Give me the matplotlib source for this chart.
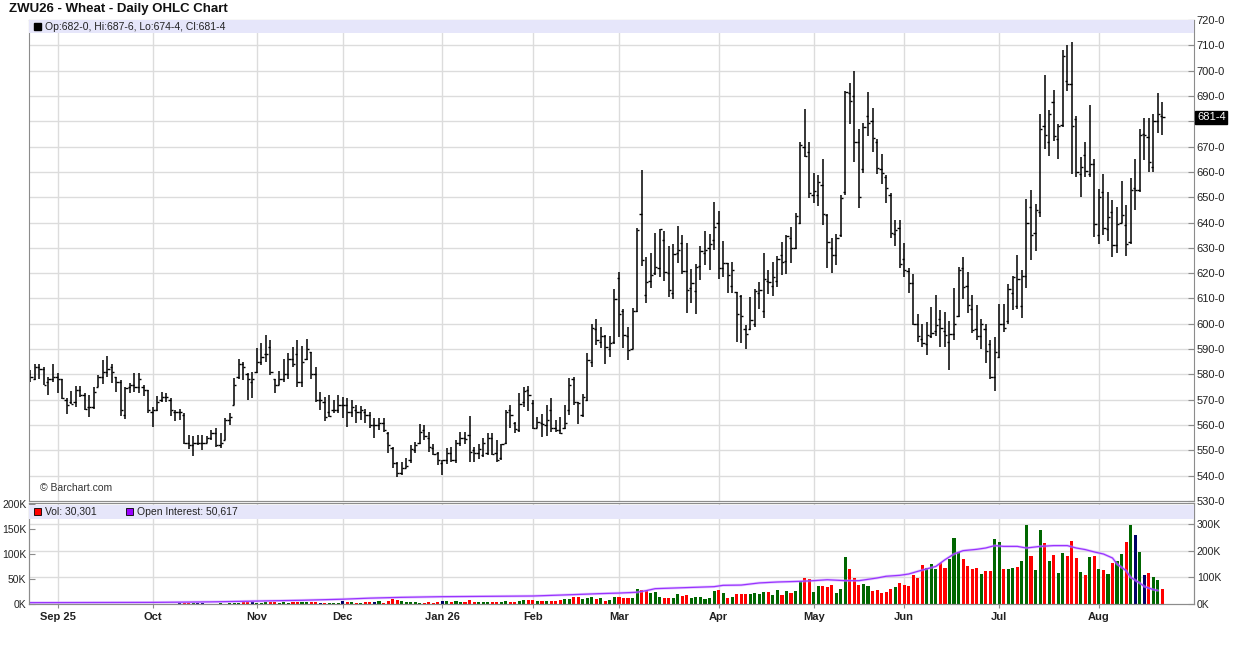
import numpy as np
import matplotlib.pyplot as plt
import matplotlib.transforms as mtransforms
from matplotlib.patches import Rectangle

plt.rcParams['font.family'] = ['Liberation Sans', 'DejaVu Sans']

# trading-day index of the first session of each month
month_days = [6, 27, 50, 69, 91, 111, 130, 152, 173, 193, 214, 236]
month_labels = ['Sep 25', 'Oct', 'Nov', 'Dec', 'Jan 26', 'Feb', 'Mar', 'Apr',
                'May', 'Jun', 'Jul', 'Aug']

opens = [580, 578, 583, 582, 577, 578, 579, 578, 570, 569,
         569, 574, 572, 567, 567, 575, 579, 581, 583, 579,
         577, 564, 575, 576, 575, 575, 574, 565, 566, 570,
         571, 570, 565, 565, 564, 553, 552, 553, 553, 553,
         555, 557, 552, 554, 562, 568, 579, 584, 580, 577,
         581, 585, 588, 591, 578, 576, 578, 580, 586, 588,
         577, 586, 589, 580, 570, 569, 565, 566, 566, 568,
         568, 565, 566, 565, 565, 564, 560, 560, 561, 557,
         551, 545, 541, 543, 546, 550, 553, 558, 555, 551,
         549, 545, 546, 549, 546, 553, 555, 556, 550, 549,
         548, 549, 555, 549, 547, 553, 566, 561, 558, 569,
         574, 568.6, 559, 561, 560, 566, 559, 558, 559, 566,
         578, 569, 564, 570, 585, 598, 593, 595, 590, 593,
         618, 605, 595, 590, 605, 643.5, 611.2, 617, 620, 622,
         633, 620, 612, 628, 632, 621, 614, 613, 623, 628,
         630, 633, 640, 622, 624, 615, 612.6, 611, 598, 598,
         600, 612, 605, 617, 615, 617, 627, 625, 634, 630,
         640, 670, 668, 651, 651, 655, 643, 630, 627, 635,
         652, 691, 690, 672, 661, 682, 680, 672, 661, 658,
         651, 635.5, 638, 625.4, 621, 616.3, 600, 594, 592, 595,
         597, 602, 597, 593, 596, 603, 622, 615, 606, 598,
         595, 598, 592, 579, 587, 600, 601, 612, 607, 607,
         619, 646, 636, 644, 678, 672, 687.6, 673, 678.4, 696,
         694.6, 681, 659, 666.6, 659, 663, 635, 652, 637.6, 644,
         631, 640, 639, 632.5, 653.5, 653, 675, 673.6, 662, 680,
         682]

highs = [581.7, 584.3, 584.3, 582.8, 579, 584, 580.4, 578, 570.5, 573.4,
         575.4, 575.4, 572.8, 571.8, 574.9, 579.7, 585.7, 587.2, 584, 579,
         577.8, 575.1, 576.7, 580.4, 580.4, 575.8, 574, 567, 571.4, 573.2,
         572.8, 570.5, 566, 566.2, 564.6, 556, 555.7, 556, 556, 555.7,
         558, 558.7, 556.7, 562.6, 564.9, 578.4, 586, 585, 580.7, 581,
         590.3, 592.5, 595.5, 593.6, 578, 581.3, 586, 588.3, 591, 593.6,
         591.2, 593.8, 589, 582.8, 573.2, 571.2, 571.8, 569.9, 571.8, 571.2,
         570.5, 569.9, 567.9, 567.5, 566.2, 565.3, 562.6, 562.6, 562.6, 557.4,
         551.4, 545.5, 545.5, 546.8, 552.1, 553.4, 560.4, 560, 557.4, 552.7,
         549.4, 546.2, 550.8, 551.2, 554, 557.4, 557.4, 563.6, 551.4, 552.5,
         555, 556.7, 556.7, 554, 552.7, 566, 568, 561.3, 572.5, 574.9,
         575.4, 569.9, 563, 564.4, 568, 570.6, 562, 563.3, 568, 578.5,
         578.9, 569.2, 572.3, 588.6, 600, 601.8, 598.9, 595.6, 595, 613.7,
         620.3, 605.9, 598.9, 606.2, 637.8, 660.7, 626.4, 628.1, 635.7, 637.6,
         636.6, 630.6, 631.4, 638.6, 635, 632, 621.5, 623.5, 630.6, 636.6,
         635.4, 648.2, 644.7, 632.6, 624, 624.4, 612.6, 611.2, 599.7, 610.4,
         613.9, 616.5, 628.1, 621.4, 624.4, 626.7, 632.4, 635, 638.3, 643.9,
         671.7, 684.8, 671.7, 659.4, 658.8, 665.1, 643.3, 633.7, 635.4, 650.9,
         691.8, 695.1, 700, 676.9, 679.5, 691.5, 685.2, 673, 667.1, 658.8,
         651.5, 641, 641, 632, 622.2, 619.6, 603.8, 599.9, 600.8, 606.7,
         611.3, 605.4, 604.7, 601.2, 614.2, 622.5, 626.2, 620.5, 611.3, 607.4,
         601.7, 600.1, 593.6, 594.9, 608, 607.8, 615.9, 618.8, 627.1, 621.2,
         649.2, 652.8, 647.2, 682.8, 698.2, 684.6, 692.2, 678.8, 708, 710,
         711.3, 682, 665.9, 671.8, 686.3, 664.9, 653.4, 659.3, 652.1, 648.8,
         646.2, 656.3, 646.8, 657.4, 664.9, 677.1, 681.4, 681.4, 683, 691.2,
         687.75]

lows = [577.1, 577.8, 578, 575.8, 571.7, 577, 572.8, 570.1, 564.2, 568.3,
        567, 571, 566, 563, 566.2, 574.9, 576.4, 579, 576.7, 573.2,
        563.5, 562.2, 572.8, 573.2, 572.8, 571.4, 564.6, 559.3, 565.5, 569.2,
        569.2, 563.5, 561.7, 562, 552.5, 550.4, 547.8, 552, 550, 553,
        554, 551.4, 551, 554, 560, 567.9, 578, 577.8, 569.9, 570.5,
        580.4, 583.7, 585, 579.7, 572.5, 575.8, 577, 578, 583, 575.1,
        575.1, 585.7, 578, 569.2, 566, 561.7, 563.3, 564.6, 564.6, 562.6,
        559.3, 563.3, 560.7, 562, 560.7, 558.7, 554.7, 558, 557.4, 549,
        542.9, 539.6, 540.3, 542.9, 545.1, 549, 552.7, 554, 549.4, 548,
        544.2, 540.2, 544.8, 545.5, 545, 551.7, 552.7, 545.5, 545.5, 546.4,
        547.2, 548, 548, 545.5, 546.2, 552.7, 558.7, 556.7, 557.4, 567.3,
        565.7, 558.3, 558.7, 555.4, 555.6, 557.4, 557.4, 556.4, 558.3, 564,
        568, 560.4, 563, 569.6, 582.8, 591.7, 590.3, 584.1, 586.8, 592,
        594.7, 590.6, 585.7, 590, 604.5, 622.9, 608.2, 614.1, 619.2, 618.5,
        616.8, 610.6, 609.9, 624, 619.8, 604.2, 608.2, 604, 617.2, 623.1,
        621.4, 629.3, 617.8, 618.5, 612.2, 612.2, 592.7, 592.3, 590, 597.6,
        598.9, 606, 602.4, 611.9, 610.8, 614.5, 619.4, 619.8, 624, 629.7,
        639.4, 666, 649.8, 647.8, 646.6, 639.2, 622.2, 620.2, 623.4, 634.3,
        650.9, 678.9, 664.1, 645.6, 659.4, 674, 668, 659, 655.2, 647.6,
        633.7, 630.8, 622.2, 618.5, 612, 599.5, 592.9, 590.7, 587.6, 594.2,
        595.1, 590.9, 590.9, 581.7, 593.6, 602.5, 609.6, 604.3, 596.2, 593.6,
        589.9, 584.6, 578, 573.6, 586.3, 596.8, 600.1, 605.4, 605.7, 602.1,
        614, 625.1, 628.8, 642.2, 669.2, 666.2, 672.2, 664.9, 677.8, 692,
        659.1, 657.8, 650.1, 658, 658, 634.3, 631.7, 635, 632.8, 626.4,
        628, 639.9, 626.7, 631.7, 644.9, 652.1, 664.6, 660, 660, 675.4,
        674.5]

closes = [579, 583, 582, 576, 578, 579, 578, 570.5, 568, 568.5,
          574, 572, 566.5, 567, 573, 579, 581, 582, 581, 577,
          566, 574.5, 576, 575, 578, 574, 566, 566, 569, 571,
          571, 566, 565, 565, 553, 552, 553, 553, 553, 555,
          557, 552, 553, 562, 563, 576, 584, 583, 578, 578,
          585, 587, 588, 581, 576, 578, 580, 586, 584, 577,
          585, 590, 580, 570, 570, 563, 563.5, 566, 568, 568,
          565, 567, 565, 566, 564, 560, 560, 561, 558, 552,
          545, 541, 543, 544, 550.4, 552, 557.4, 555.6, 551.4, 548.5,
          546.2, 546.2, 549, 546.2, 553, 555, 554.5, 549.4, 549, 550.4,
          553, 554.7, 548.5, 546.2, 552.5, 565.3, 564, 558.3, 568.3, 573.6,
          572, 559, 561.3, 560.4, 562, 559, 558, 557, 561, 576,
          569, 568.6, 571, 585.7, 598.3, 593.6, 595, 591, 592.6, 609.7,
          604, 595.6, 589.7, 604.9, 636.9, 625.3, 616.5, 619.2, 622.5, 637.3,
          620.5, 613.2, 627.5, 629, 621, 613.5, 616.1, 622.5, 628.8, 629,
          631.7, 638.3, 622, 624, 619.4, 621.1, 604, 603, 595.8, 601.3,
          612.8, 613.2, 617.8, 616.5, 618.5, 625.4, 624.5, 634.6, 630.1, 642.5,
          670.7, 666.3, 651.5, 652.6, 656.1, 643.2, 632.4, 627.1, 633.7, 649.5,
          691.5, 688.2, 672, 650, 677.9, 679.5, 673.3, 661.4, 659.4, 653.5,
          635.7, 637, 623.5, 621.2, 616.2, 600.1, 595.1, 592.5, 595.5, 596.4,
          599.5, 598.2, 595.5, 596, 599.9, 621.4, 614.6, 607.4, 597.5, 595.1,
          600, 589.3, 579.1, 589, 599.9, 598.5, 613.9, 618.3, 617.5, 618.8,
          639.9, 635, 645, 677.1, 674.5, 682.8, 674, 678, 705.7, 694.6,
          678, 660, 662, 660.4, 663.3, 639.3, 650, 638, 642.2, 631,
          639.6, 642.9, 631.7, 653, 653, 674.5, 674.5, 663.9, 680.1, 682.8,
          681.5]

# daily volume, thousands of contracts
volumes = [0.5, 0.5, 0.5, 0.5, 0.5, 0.5, 1, 0.5, 0.5, 0.5,
           0.5, 0.5, 0.5, 0.5, 0.5, 0.5, 0.5, 0.5, 0.5, 0.5,
           0.5, 0.5, 0.5, 0.5, 0.5, 0.5, 0.8, 0.8, 0.8, 0.8,
           0.8, 0.8, 1, 1.3, 1.3, 1.3, 1.3, 1.3, 1.3, 1,
           1, 1, 1.3, 1, 1.3, 2.7, 2.7, 3.3, 3.3, 3.3,
           2, 2, 3.3, 3.3, 3.3, 2, 3.3, 2, 3.3, 3.3,
           3.3, 3.3, 3.3, 3.3, 1.3, 1.3, 1.3, 1.3, 1.3, 5.3,
           3.3, 3.3, 1.3, 1.3, 3.3, 3.3, 3.3, 5.3, 1.3, 5.3,
           9.3, 7.3, 6.7, 4.7, 4.7, 4.7, 2.7, 2.7, 4.7, 2.7,
           4.7, 6.7, 6.7, 4.7, 6.7, 4.7, 4.7, 8.7, 4.7, 4.7,
           4.7, 4.7, 4.7, 4.7, 4.7, 6.7, 4.7, 4.7, 6.7, 8.7,
           8.7, 8.7, 6.7, 6.7, 6.7, 6.7, 6.7, 8.7, 10.7, 10.7,
           14.7, 14.7, 10.7, 12.7, 14.7, 10.7, 12.7, 6.7, 8.7, 14.7,
           14.7, 12.7, 12.7, 12.7, 30.7, 28.7, 26.7, 22.7, 24.7, 14.7,
           12.7, 12.7, 12.7, 20.7, 16.7, 18.7, 12.7, 14.7, 14.7, 10.7,
           12.7, 26.7, 28.7, 22.7, 12.7, 14.7, 20.7, 20.7, 20.7, 20.7,
           22.7, 20.7, 24.7, 24.7, 18.7, 28.7, 18.7, 26.7, 22.7, 26.7,
           46.7, 52.7, 50.7, 24.7, 36.7, 36.7, 34.7, 38.7, 22.7, 30.7,
           94.7, 70.7, 52.7, 38.7, 40.7, 36.7, 26.7, 28.7, 22.7, 24.7,
           30.7, 34.7, 42.7, 38.7, 36.7, 58.7, 52.7, 78.7, 72.7, 80.7,
           70.7, 82.7, 72.7, 90.7, 132.7, 104.7, 90.7, 76.7, 70.7, 72.7,
           60.7, 66.7, 66.7, 130.7, 124.7, 70.7, 70.7, 72.7, 74.7, 86.7,
           158.7, 96.7, 68.7, 148.7, 122.7, 86.7, 98.7, 62.7, 102.7, 96.7,
           126.7, 92, 64.7, 58.7, 94.7, 96.7, 70.7, 68.7, 60.7, 82.7,
           86.7, 100, 124.7, 158.7, 138.7, 104.7, 58.7, 62.7, 54.7, 48.7,
           30.3]

# open interest, thousands, read at these sessions
oi_days = [0, 27, 40, 50, 60, 69, 75, 82, 91, 111, 118, 126, 130, 134, 136,
           138, 144, 151, 153, 157, 159, 161, 165, 170, 173, 176, 180, 183,
           187, 189, 192, 194, 196, 200, 202, 204, 206, 209, 211, 213, 215,
           218, 220, 223, 226, 229, 231, 233, 235, 237, 239, 240, 242, 243,
           245, 246, 248, 249]
oi_k = [5, 6, 8, 11, 14, 18, 22, 25, 27.5, 30, 34, 39, 41, 44, 50,
        57.5, 61, 65, 70, 71, 75, 79, 82.5, 85, 87.5, 91, 87.5, 87.5,
        97.5, 104, 107.5, 112.5, 122.5, 141, 166, 187.5, 200, 205, 210, 219, 216,
        216, 210, 216, 219, 219, 210, 204, 195, 187.5, 172.5, 150, 125, 100,
        79, 66, 54, 50.6]


def eighths(v):
    whole = int(v)
    return '%d-%d' % (whole, int(round((v - whole) * 8)))


days = np.arange(len(closes))
opens = np.array(opens)
highs = np.array(highs)
lows = np.array(lows)
closes = np.array(closes)

W, H = 1236, 645
fig = plt.figure(figsize=(W / 100, H / 100), dpi=100)
fig.patch.set_facecolor('white')

left, right = 29, 1194
ax = fig.add_axes([left / W, (H - 501) / H, (right - left) / W, 481 / H])
axv = fig.add_axes([left / W, (H - 604) / H, (right - left) / W, 101 / H])
axo = axv.twinx()

grid_c = '#dcdcdc'
frame_c = '#8c8c8c'

# ---- price panel ----
ax.vlines(days, lows, highs, color='black', lw=1.1)
ax.hlines(opens, days - 0.5, days, color='black', lw=1.0)
ax.hlines(closes, days, days + 0.5, color='black', lw=1.0)

ax.set_xlim(-0.3, 257)
ax.set_ylim(530, 720)
price_ticks = np.arange(530, 721, 10)
ax.set_yticks(price_ticks)
# the last-price box sits over the nearest grid label
last_near = price_ticks[np.argmin(np.abs(price_ticks - closes[-1]))]
ax.set_yticklabels(['' if v == last_near else eighths(v) for v in price_ticks])
ax.yaxis.tick_right()
ax.tick_params(axis='y', direction='in', length=4, pad=2, labelsize=8,
               color=frame_c, labelcolor='#222222')
ax.set_xticks(month_days)
ax.set_xticklabels([])
ax.tick_params(axis='x', length=0)
ax.grid(True, color=grid_c, lw=1)
ax.set_axisbelow(True)
for s in ax.spines.values():
    s.set_color(frame_c)

ax.add_patch(Rectangle((0, 1 - 13 / 481), 1, 13 / 481, transform=ax.transAxes,
                       facecolor='#e6e6fa', edgecolor='none', zorder=3))
ax.text(16 / 1165, 1 - 6.5 / 481, 'Op:%s, Hi:%s, Lo:%s, Cl:%s' % (
    eighths(opens[-1]), eighths(highs[-1]), eighths(lows[-1]), eighths(closes[-1])),
    transform=ax.transAxes, fontsize=7.5, va='center', color='#222222', zorder=4)
ax.add_patch(Rectangle((4.5 / 1165, 1 - 10 / 481), 7 / 1165, 7 / 481,
                       transform=ax.transAxes, facecolor='black', edgecolor='black',
                       zorder=4))
ax.text(11 / 1165, 13 / 481, '\u00a9 Barchart.com', transform=ax.transAxes,
        fontsize=7.5, va='center', color='#333333')

trans = mtransforms.blended_transform_factory(ax.transAxes, ax.transData)
ax.text(1 + 3 / 1165, closes[-1], eighths(closes[-1]), transform=trans,
        fontsize=8, color='white', va='center', ha='left',
        bbox=dict(facecolor='black', edgecolor='black', pad=1.2), zorder=5)

# ---- volume / open interest panel ----
vol_colors = []
for i in range(len(closes)):
    prev = closes[i - 1] if i > 0 else opens[0]
    if closes[i] > prev:
        vol_colors.append('#006600')
    elif closes[i] < prev:
        vol_colors.append('#ff0000')
    else:
        vol_colors.append('#000066')

vol_top = 202
oi_top = 378.75
axv.bar(days, volumes, width=0.68, color=vol_colors, zorder=2)
for v in [100, 200, 300]:
    axv.axhline(v * vol_top / oi_top, color=grid_c, lw=1, zorder=0)
axv.set_xlim(-0.3, 257)
axv.set_ylim(0, vol_top)
axv.set_yticks([0, 50, 100, 150, 200])
axv.set_yticklabels(['0K', '50K', '100K', '150K', '200K'])
axv.tick_params(axis='y', direction='in', length=4, pad=2, labelsize=7.5,
                color=frame_c, labelcolor='#222222')
axv.set_xticks(month_days)
axv.set_xticklabels(month_labels, fontweight='bold')
axv.tick_params(axis='x', direction='out', length=3, pad=3, labelsize=8,
                color=frame_c, labelcolor='#222222')
axv.grid(True, axis='x', color=grid_c, lw=1, zorder=0)
axv.set_axisbelow(True)
for s in axv.spines.values():
    s.set_color(frame_c)

axo.plot(oi_days, oi_k, color='#cc99ff', lw=2.0, alpha=0.5, solid_capstyle='round')
axo.plot(oi_days, oi_k, color='#9933ff', lw=0.9)
axo.set_ylim(0, oi_top)
axo.set_yticks([0, 100, 200, 300])
axo.set_yticklabels(['0K', '100K', '200K', '300K'])
axo.tick_params(axis='y', direction='in', length=4, pad=2, labelsize=7.5,
                color=frame_c, labelcolor='#222222')
for s in axo.spines.values():
    s.set_color(frame_c)

axo.add_patch(Rectangle((0, 85 / 101), 1, 14 / 101, transform=axo.transAxes,
                        facecolor='#e6e6fa', edgecolor='none', zorder=3))
axo.add_patch(Rectangle((4.5 / 1165, 89 / 101), 7 / 1165, 7 / 101,
                        transform=axo.transAxes, facecolor='#ff0000',
                        edgecolor='black', lw=0.6, zorder=4))
axo.text(16 / 1165, 92 / 101, 'Vol: {:,}'.format(30301), transform=axo.transAxes,
         fontsize=7.5, va='center', color='#222222', zorder=4)
axo.add_patch(Rectangle((96.5 / 1165, 89 / 101), 7 / 1165, 7 / 101,
                        transform=axo.transAxes, facecolor='#9900ff',
                        edgecolor='black', lw=0.6, zorder=4))
axo.text(108 / 1165, 92 / 101, 'Open Interest: {:,}'.format(50617),
         transform=axo.transAxes, fontsize=7.5, va='center', color='#222222',
         zorder=4)

fig.text(9 / W, 1 - 9 / H, 'ZWU26 - Wheat - Daily OHLC Chart', fontsize=9.5,
         fontweight='bold', va='center', ha='left', color='#111111')

fig.savefig('out.png', dpi=100)
